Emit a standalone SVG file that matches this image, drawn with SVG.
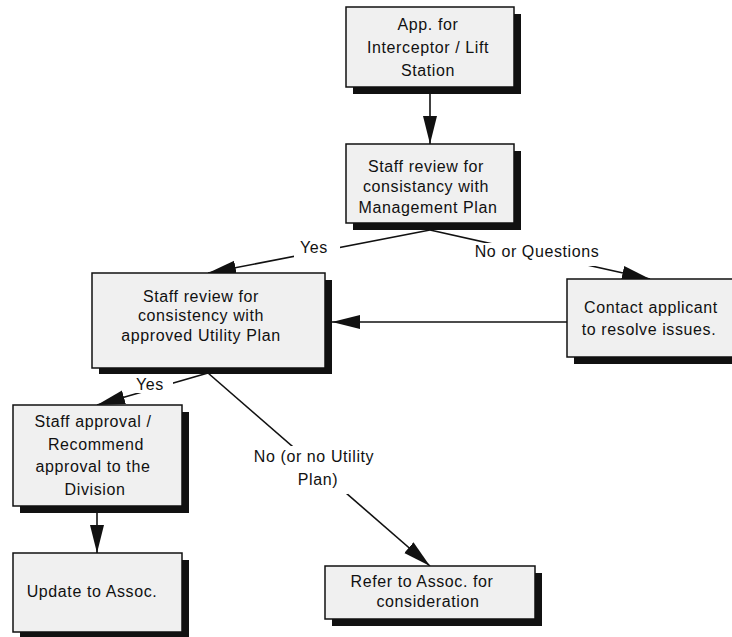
<svg xmlns="http://www.w3.org/2000/svg" width="732" height="637" viewBox="0 0 732 637">
<style>
.shadow{fill:#111;}
.box{fill:#f0f0f0;stroke:#111;stroke-width:1.5;}
text{font-family:"Liberation Sans",Arial,sans-serif;font-size:16px;fill:#111;letter-spacing:0.6px;text-anchor:middle;}
.line{stroke:#111;stroke-width:1.6;fill:none;}
.lbl-bg{fill:#fff;}
</style>
<defs>
<marker id="arr" markerUnits="userSpaceOnUse" markerWidth="30" markerHeight="16" refX="28" refY="7" orient="auto">
<path d="M0,0 L28,7 L0,14 z" fill="#111"/>
</marker>
</defs>
<rect width="732" height="637" fill="#fff"/>

<g id="connectors">
<line class="line" x1="430" y1="94" x2="430" y2="144" marker-end="url(#arr)"/>
<line class="line" x1="430" y1="230" x2="208" y2="273" marker-end="url(#arr)"/>
<line class="line" x1="430" y1="230" x2="650" y2="279" marker-end="url(#arr)"/>
<line class="line" x1="567" y1="322" x2="332" y2="322" marker-end="url(#arr)"/>
<line class="line" x1="208" y1="373" x2="97" y2="405" marker-end="url(#arr)"/>
<line class="line" x1="208" y1="373" x2="430" y2="566" marker-end="url(#arr)"/>
<line class="line" x1="97" y1="512" x2="97" y2="553" marker-end="url(#arr)"/>
<rect class="lbl-bg" x="294" y="238" width="46" height="20"/>
<text x="314" y="253">Yes</text>
<rect class="lbl-bg" x="483" y="243" width="114" height="23"/>
<text x="537" y="257">No or Questions</text>
<rect class="lbl-bg" x="129" y="377" width="44" height="16"/>
<text x="150" y="390">Yes</text>
<rect class="lbl-bg" x="286" y="446" width="62" height="48"/>
<text x="314" y="462">No (or no Utility</text>
<text x="318" y="485">Plan)</text>
</g>

<g id="n1">
<rect class="shadow" x="353" y="14" width="168" height="80"/>
<rect class="box" x="346" y="7" width="168" height="80"/>
<text x="428" y="30">App. for</text>
<text x="428" y="53">Interceptor / Lift</text>
<text x="428" y="76">Station</text>
</g>

<g id="n2">
<rect class="shadow" x="353" y="151" width="168" height="79"/>
<rect class="box" x="346" y="144" width="168" height="79"/>
<text x="426" y="172">Staff review for</text>
<text x="426" y="192">consistancy with</text>
<text x="428" y="213">Management Plan</text>
</g>

<g id="n3">
<rect class="shadow" x="99" y="280" width="233" height="94"/>
<rect class="box" x="92" y="273" width="233" height="95"/>
<text x="201" y="302">Staff review for</text>
<text x="201" y="321">consistency with</text>
<text x="201" y="341">approved Utility Plan</text>
</g>

<g id="n4">
<rect class="shadow" x="574" y="286" width="170" height="78"/>
<rect class="box" x="567" y="279" width="170" height="78"/>
<text x="651" y="313">Contact applicant</text>
<text x="649" y="335">to resolve issues.</text>
</g>

<g id="n5">
<rect class="shadow" x="20" y="412" width="169" height="101"/>
<rect class="box" x="13" y="405" width="169" height="101"/>
<text x="93" y="427">Staff approval /</text>
<text x="96" y="450">Recommend</text>
<text x="93" y="472">approval to the</text>
<text x="95" y="495">Division</text>
</g>

<g id="n6">
<rect class="shadow" x="20" y="560" width="169" height="79"/>
<rect class="box" x="13" y="553" width="169" height="79"/>
<text x="92" y="597">Update to Assoc.</text>
</g>

<g id="n7">
<rect class="shadow" x="332" y="573" width="210" height="53"/>
<rect class="box" x="325" y="566" width="210" height="53"/>
<text x="422" y="587">Refer to Assoc. for</text>
<text x="428" y="607">consideration</text>
</g>
</svg>
